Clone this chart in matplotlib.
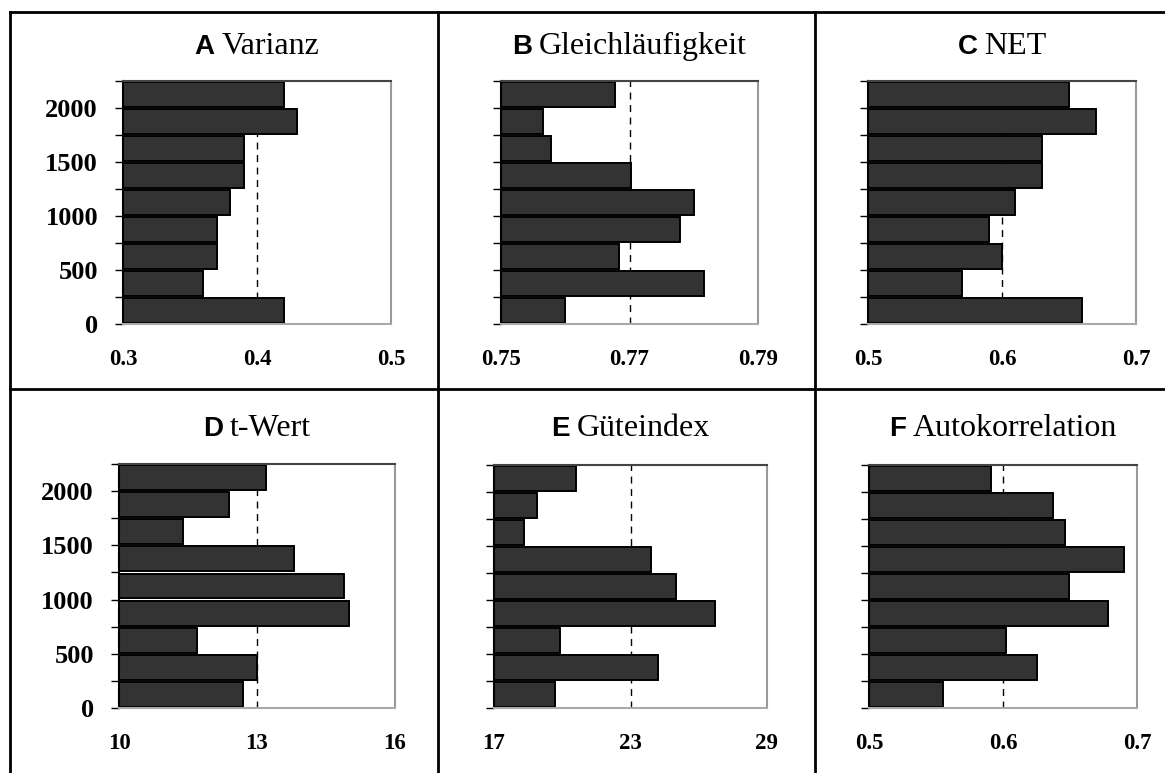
import matplotlib.pyplot as plt
from matplotlib.lines import Line2D
from matplotlib.offsetbox import TextArea, HPacker, AnnotationBbox

# Kennwerte je Klasse (von unten 0-250 bis oben 2000-2250)
bin_mitte = [125, 375, 625, 875, 1125, 1375, 1625, 1875, 2125]

varianz = [0.42, 0.36, 0.37, 0.37, 0.38, 0.39, 0.39, 0.43, 0.42]
gleichlauf = [0.760, 0.7816, 0.7683, 0.7779, 0.7801, 0.7702, 0.7578, 0.7566, 0.7677]
net = [0.66, 0.57, 0.60, 0.59, 0.61, 0.63, 0.63, 0.67, 0.65]
t_wert = [12.7, 13.0, 11.7, 15.0, 14.9, 13.8, 11.4, 12.4, 13.2]
guete = [19.7, 24.2, 19.9, 26.7, 25.0, 23.9, 18.3, 18.9, 20.6]
autokorr = [0.555, 0.625, 0.602, 0.678, 0.649, 0.690, 0.646, 0.637, 0.591]

buchstaben = ['A', 'B', 'C', 'D', 'E', 'F']
titel = ['Varianz', 'Gleichläufigkeit', 'NET', 't-Wert', 'Güteindex', 'Autokorrelation']
werte = [varianz, gleichlauf, net, t_wert, guete, autokorr]
x_ticks = [[0.3, 0.4, 0.5], [0.75, 0.77, 0.79], [0.5, 0.6, 0.7],
           [10, 13, 16], [17, 23, 29], [0.5, 0.6, 0.7]]
x_labels = [['0.3', '0.4', '0.5'], ['0.75', '0.77', '0.79'], ['0.5', '0.6', '0.7'],
            ['10', '13', '16'], ['17', '23', '29'], ['0.5', '0.6', '0.7']]
referenz = [0.4, 0.77, 0.6, 13, 23, 0.6]

y_major = [0, 500, 1000, 1500, 2000]
y_minor = [250, 750, 1250, 1750, 2250]

W, H = 1165, 773
fig = plt.figure(figsize=(W / 100, H / 100), dpi=100)

# Achsenpositionen in Pixeln (links, oben, rechts, unten)
boxen = [(123, 81, 391, 324), (501, 81, 758, 324), (868, 81, 1136, 324),
         (119, 464, 395, 708), (494, 465, 767, 708), (869, 465, 1137, 708)]

serif = 'Liberation Serif'

for i in range(6):
    l, t, r, b = boxen[i]
    ax = fig.add_axes([l / W, 1 - b / H, (r - l) / W, (b - t) / H])
    xmin, xmax = x_ticks[i][0], x_ticks[i][-1]
    breiten = [v - xmin for v in werte[i]]
    ax.axvline(referenz[i], color='black', lw=1, ls=(0, (5, 4)), zorder=1)
    ax.barh(bin_mitte, breiten, left=xmin, height=230, color='#333333',
            edgecolor='black', linewidth=1.4, zorder=2)
    ax.set_xlim(xmin, xmax)
    ax.set_ylim(0, 2250)

    ax.set_xticks(x_ticks[i])
    ax.set_xticklabels(x_labels[i], fontfamily=serif, fontweight='bold', fontsize=16.5)
    ax.tick_params(axis='x', length=0, pad=18)

    ax.set_yticks(y_major)
    ax.set_yticks(y_minor, minor=True)
    if i % 3 == 0:
        ax.set_yticklabels([str(v) for v in y_major], fontfamily=serif,
                           fontweight='bold', fontsize=19)
    else:
        ax.set_yticklabels([])
    ax.tick_params(axis='y', which='both', length=6, width=1, color='black', pad=12)

    ax.spines['left'].set_color('black')
    ax.spines['left'].set_linewidth(1.5)
    ax.spines['top'].set_color('#444444')
    ax.spines['top'].set_linewidth(1.5)
    ax.spines['right'].set_color('#999999')
    ax.spines['right'].set_linewidth(1.5)
    ax.spines['bottom'].set_color('#aaaaaa')
    ax.spines['bottom'].set_linewidth(1.5)

    # Titel: Buchstabe fett serifenlos, Rest in Serifenschrift
    t1 = TextArea(buchstaben[i], textprops=dict(family='Liberation Sans', fontweight='heavy',
                                              fontsize=20, color='black'))
    t2 = TextArea(titel[i], textprops=dict(family=serif, fontsize=23, color='black'))
    box = HPacker(children=[t1, t2], align='baseline', pad=0, sep=5)
    ty = 1 + (t - (46 if i < 3 else 429)) / (b - t)
    ab = AnnotationBbox(box, (0.5, ty), xycoords='axes fraction',
                        box_alignment=(0.5, 0.5), frameon=False)
    ax.add_artist(ab)

# Tabellenrahmen
linien = [((10, 10), (12, H)), ((438, 438), (12, H)), ((815, 815), (12, H)),
          ((10, W), (12, 12)), ((10, W), (389, 389))]
for xs, ys in linien:
    fig.add_artist(Line2D([x / W for x in xs], [1 - y / H for y in ys],
                          color='black', lw=2, transform=fig.transFigure))

fig.savefig('out.png', dpi=100)
